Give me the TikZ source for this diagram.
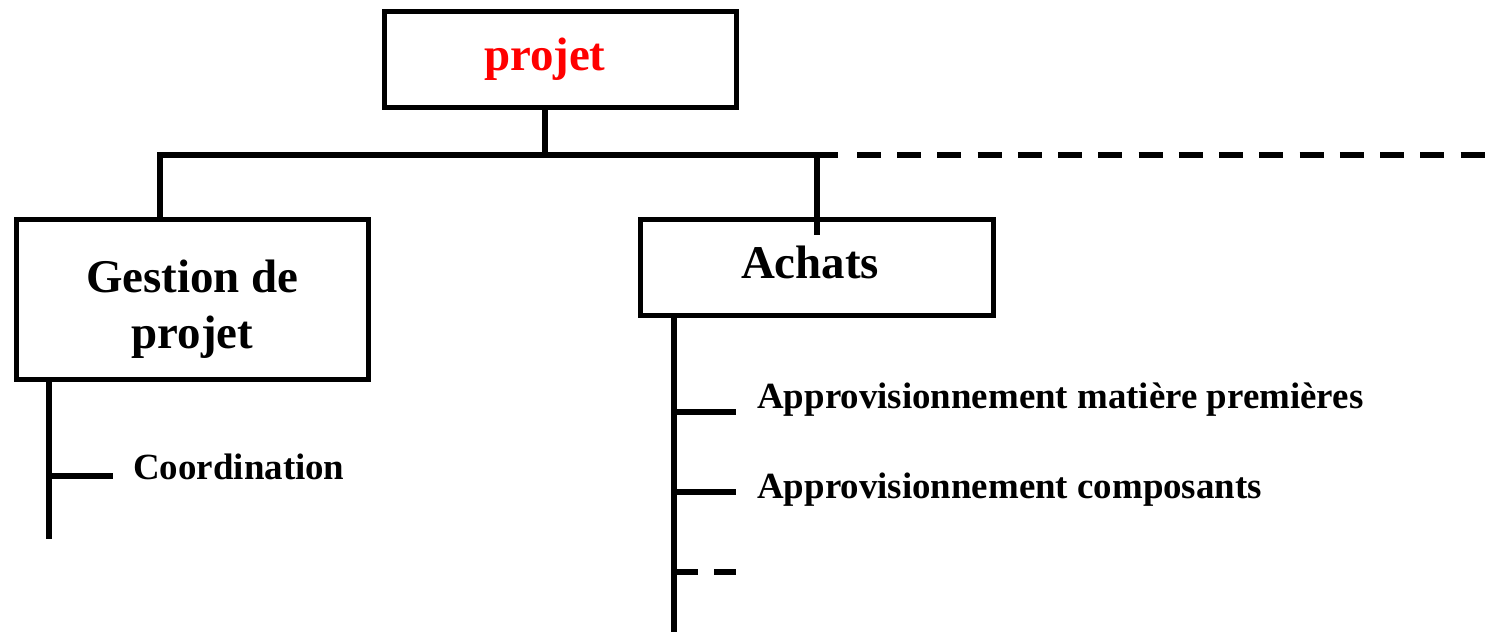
\documentclass[tikz,border=0pt]{standalone}
\usepackage{fontspec}
\setmainfont{Liberation Serif}
\usetikzlibrary{positioning}

\begin{document}
\begin{tikzpicture}[x=0.02cm, y=-0.02cm, % one unit = one pixel of the sketch
    box/.style={draw, rectangle, line width=0.11cm, align=center, inner sep=0pt,
        font=\fontsize{26.7}{31.5}\selectfont\bfseries},
    item/.style={anchor=base west, inner sep=0pt, font=\fontsize{21}{25}\selectfont\bfseries},
    branch/.style={line width=0.11cm},
    dashbranch/.style={branch, dash pattern=on 0.48cm off 0.325cm}]
    \useasboundingbox (0,0) rectangle (1492,634);

    % Top
    \node[box, text=red, minimum width=7.04cm, minimum height=1.92cm, text width=3.06cm, align=left,
        text height=19pt, text depth=6pt] (projet) at (560.5,59.5) {projet};

    % Gestion de projet
    \node[box, minimum width=7.04cm, minimum height=3.2cm] (gestion) at (192.5,299.5) {\rule{0pt}{1.04cm}Gestion de\\projet};

    % Achats
    \node[box, minimum width=7.06cm, minimum height=1.92cm, text width=3.04cm, align=left,
        text height=19pt, text depth=6pt] (achats) at (817,267.5) {Achats};

    % Main branch
    \coordinate (pj) at (545,155);
    \coordinate (hl) at (160,155);
    \coordinate (hr) at (838,155);
    \coordinate (ach) at (817,155);
    \coordinate (achin) at (817,235);
    \coordinate (dstart) at (857,155);
    \coordinate (dend) at (1490,155);
    \draw[branch] (projet.south -| pj) -- (pj);
    \draw[branch] (gestion.north -| hl) -- (hl) -- (hr);
    \draw[branch] (ach) -- (achin);
    \draw[dashbranch] (dstart) -- (dend);

    % Tasks of Gestion de projet
    \coordinate (gbot) at (49,539);
    \coordinate (g1) at (49,476);
    \coordinate (g1e) at (113,476);
    \draw[branch] (gestion.south -| gbot) -- (gbot);
    \draw[branch] (g1) -- (g1e);
    \node[item] (coord) at (133,480) {Coordination};

    % Tasks of Achats
    \coordinate (abot) at (674,632);
    \coordinate (a1) at (674,412);
    \coordinate (a1e) at (736,412);
    \coordinate (a2) at (674,492);
    \coordinate (a2e) at (736,492);
    \coordinate (a3) at (674,572);
    \coordinate (a3e) at (736,572);
    \draw[branch] (achats.south -| abot) -- (abot);
    \draw[branch] (a1) -- (a1e);
    \draw[branch] (a2) -- (a2e);
    \draw[dashbranch] (a3) -- (a3e);
    \node[item] (matiere) at (757,409) {Approvisionnement matière premières};
    \node[item] (compos) at (757,499) {Approvisionnement composants};
\end{tikzpicture}
\end{document}
